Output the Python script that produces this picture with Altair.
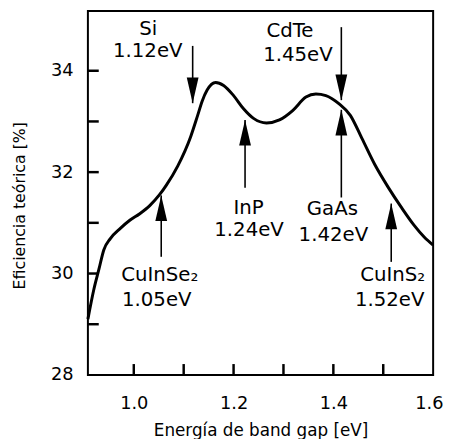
import altair as alt
import pandas as pd

# Theoretical efficiency curve vs band gap
gap_ev = [0.908, 0.920, 0.930, 0.940, 0.953, 0.973, 0.992, 1.012, 1.032, 1.052,
          1.065, 1.088, 1.114, 1.128, 1.137, 1.147, 1.164, 1.180, 1.200, 1.220,
          1.240, 1.266, 1.292, 1.319, 1.345, 1.365, 1.385, 1.411, 1.434, 1.457,
          1.483, 1.510, 1.536, 1.562, 1.582, 1.600]
efficiency = [29.10, 29.69, 30.08, 30.47, 30.69, 30.89, 31.05, 31.18, 31.34, 31.56,
              31.74, 32.12, 32.70, 33.12, 33.40, 33.62, 33.77, 33.71, 33.51, 33.25,
              33.06, 32.97, 33.03, 33.22, 33.48, 33.54, 33.51, 33.35, 33.12, 32.67,
              32.15, 31.70, 31.31, 30.95, 30.72, 30.56]

# Material arrows
arrow_x = [1.118, 1.416, 1.223, 1.416, 1.055, 1.516]
arrow_tip = [33.36, 33.42, 33.03, 33.23, 31.54, 31.38]
arrow_tail = [34.49, 34.86, 31.69, 31.50, 30.33, 30.23]
arrow_dir = ["down", "down", "up", "up", "up", "up"]

# Annotation texts
label_text = ["Si", "1.12eV", "CdTe", "1.45eV", "InP", "1.24eV",
              "GaAs", "1.42eV", "CuInSe₂", "1.05eV", "CuInS₂", "1.52eV"]
label_x = [1.029, 1.028, 1.313, 1.329, 1.230, 1.231,
           1.398, 1.400, 1.052, 1.046, 1.519, 1.513]
label_y = [34.82, 34.38, 34.79, 34.30, 31.29, 30.85,
           31.28, 30.76, 29.96, 29.48, 29.96, 29.48]

# Axis labels and (inward) tick positions
x_labels = [1.0, 1.2, 1.4, 1.6]
y_labels = [28, 30, 32, 34]
x_ticks = [1.0, 1.1, 1.2, 1.3, 1.4, 1.5]
y_ticks = [29, 30, 31, 32, 33, 34]

FONT = "DejaVu Sans"
W, H = 350, 369
TICK = 11
X_DOMAIN = [0.908, 1.6]
Y_DOMAIN = [28, 35.18]

# tick length (pixels) expressed in each scale's units
tick_dx = TICK * (X_DOMAIN[1] - X_DOMAIN[0]) / W
tick_dy = TICK * (Y_DOMAIN[1] - Y_DOMAIN[0]) / H

curve_df = pd.DataFrame({"gap": gap_ev, "eff": efficiency})
arrow_df = pd.DataFrame({"x": arrow_x, "tip": arrow_tip, "tail": arrow_tail, "dir": arrow_dir})
label_df = pd.DataFrame({"text": label_text, "x": label_x, "y": label_y})
xtick_df = pd.DataFrame({"v": x_ticks,
                         "y0": [Y_DOMAIN[0]] * len(x_ticks),
                         "y1": [Y_DOMAIN[0] + tick_dy] * len(x_ticks)})
ytick_df = pd.DataFrame({"v": y_ticks,
                         "x0": [X_DOMAIN[0]] * len(y_ticks),
                         "x1": [X_DOMAIN[0] + tick_dx] * len(y_ticks)})

xscale = alt.Scale(domain=X_DOMAIN, nice=False, zero=False)
yscale = alt.Scale(domain=Y_DOMAIN, nice=False, zero=False)

x_axis = alt.Axis(
    values=x_labels, format=".1f", title="Energía de band gap [eV]", grid=False, domain=False,
    ticks=False, tickSize=0, labelFlush=True, labelFlushOffset=10,
    labelOverlap=False, labelPadding=20,
    labelFont=FONT, labelFontSize=18, labelColor="black",
    titleFont=FONT, titleFontSize=17, titleFontWeight="normal", titleColor="black",
    titleX=175, titleY=56, titleBaseline="middle", titleAlign="center",
)
y_axis = alt.Axis(
    values=y_labels, title="Eficiencia teórica [%]", grid=False, domain=False,
    ticks=False, tickSize=0, labelOverlap=False, labelPadding=15,
    labelFont=FONT, labelFontSize=18, labelColor="black",
    titleFont=FONT, titleFontSize=16, titleFontWeight="normal", titleColor="black",
    titleX=-69, titleY=197, titleBaseline="middle", titleAlign="center", titleAngle=-90,
)

curve = alt.Chart(curve_df).mark_line(color="black", strokeWidth=3, interpolate="monotone").encode(
    x=alt.X("gap:Q", scale=xscale, axis=x_axis),
    y=alt.Y("eff:Q", scale=yscale, axis=y_axis),
)

xticks = alt.Chart(xtick_df).mark_rule(color="black", strokeWidth=2.5).encode(
    x=alt.X("v:Q", scale=xscale),
    y=alt.Y("y0:Q", scale=yscale),
    y2="y1:Q",
)
yticks = alt.Chart(ytick_df).mark_rule(color="black", strokeWidth=2.5).encode(
    y=alt.Y("v:Q", scale=yscale),
    x=alt.X("x0:Q", scale=xscale),
    x2="x1:Q",
)

shafts = alt.Chart(arrow_df).mark_rule(color="black", strokeWidth=1.6).encode(
    x=alt.X("x:Q", scale=xscale),
    y=alt.Y("tip:Q", scale=yscale),
    y2="tail:Q",
)

heads_down = alt.Chart(arrow_df).transform_filter(alt.datum.dir == "down").mark_point(
    shape="M0,0L-0.46,-2L0.46,-2Z", size=676, filled=True, fill="black", strokeWidth=0, opacity=1
).encode(x=alt.X("x:Q", scale=xscale), y=alt.Y("tip:Q", scale=yscale))

heads_up = alt.Chart(arrow_df).transform_filter(alt.datum.dir == "up").mark_point(
    shape="M0,0L-0.46,2L0.46,2Z", size=676, filled=True, fill="black", strokeWidth=0, opacity=1
).encode(x=alt.X("x:Q", scale=xscale), y=alt.Y("tip:Q", scale=yscale))

labels = alt.Chart(label_df).mark_text(
    font=FONT, fontSize=20, color="black", align="center", baseline="middle"
).encode(x=alt.X("x:Q", scale=xscale), y=alt.Y("y:Q", scale=yscale), text="text:N")

chart = alt.layer(curve, xticks, yticks, shafts, heads_down, heads_up, labels).properties(
    width=W, height=H,
    autosize=alt.AutoSizeParams(type="none"),
    padding={"left": 81, "top": 0, "right": 10, "bottom": 62},
).configure_view(stroke="black", strokeWidth=2)

chart.save("out.html", embed_options={"renderer": "svg", "actions": False})
